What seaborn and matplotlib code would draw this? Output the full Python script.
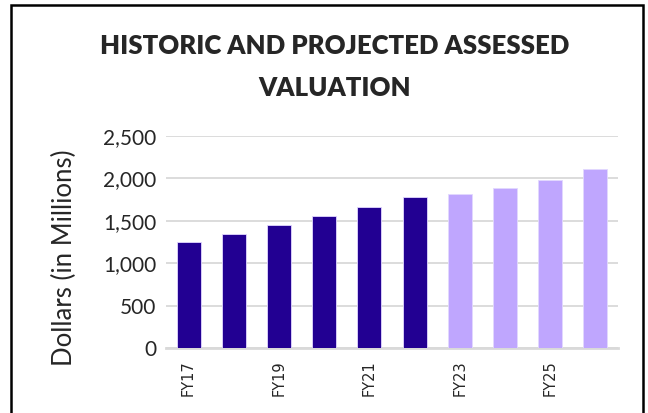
import matplotlib
matplotlib.use("Agg")
import matplotlib.pyplot as plt
import seaborn as sns
import pandas as pd
from matplotlib.patches import Rectangle

# data
years = ["FY17", "FY18", "FY19", "FY20", "FY21", "FY22", "FY23", "FY24", "FY25", "FY26"]
values = [1245, 1340, 1445, 1562, 1668, 1785, 1812, 1884, 1978, 2108]
status = ["Historic"] * 6 + ["Projected"] * 4
tick_labels = ["FY17", "", "FY19", "", "FY21", "", "FY23", "", "FY25", ""]
colors = {"Historic": "#220092", "Projected": "#bfa6fe"}

df = pd.DataFrame({"Year": years, "Value": values, "Status": status})

sns.set_theme(style="white")
plt.rcParams["font.family"] = ["Lato", "DejaVu Sans"]

fig = plt.figure(figsize=(6.48, 4.13), dpi=100)
ax = fig.add_axes([166 / 648, 65 / 413, 452 / 648, 212 / 413])

sns.barplot(data=df, x="Year", y="Value", hue="Status", palette=colors,
            order=years, dodge=False, width=0.53, legend=False, ax=ax,
            saturation=1, edgecolor="#e2d8ff", linewidth=0.6, zorder=3)

ax.set_ylim(0, 2500)
ax.set_yticks(range(0, 2501, 500))
ax.set_yticklabels([f"{v:,}" for v in range(0, 2501, 500)], fontsize=15)
ax.set_xticks(range(len(years)))
ax.set_xticklabels(tick_labels, rotation=90, fontsize=10.5, family="DejaVu Sans")
ax.tick_params(axis="y", length=0, pad=7)
ax.tick_params(axis="x", length=0, pad=9)
ax.set_xlabel("")
ax.set_ylabel("")
ax.yaxis.grid(True, color="#d9d9d9", linewidth=1.3, zorder=0)
ax.set_axisbelow(True)
for side in ["top", "right", "left"]:
    ax.spines[side].set_visible(False)
ax.spines["bottom"].set_color("#d9d9d9")
ax.spines["bottom"].set_linewidth(2)

fig.text(64 / 648, (413 - 258) / 413, "Dollars (in Millions)", rotation=90,
         ha="center", va="center", fontsize=18.5)

fig.text(335 / 648, (413 - 34) / 413, "HISTORIC AND PROJECTED ASSESSED\nVALUATION",
         ha="center", va="top", fontsize=18.5, fontweight="heavy", linespacing=1.9)

# outer chart frame
fig.patches.append(Rectangle((11 / 648, -0.05), 632 / 648, 1.05 - 5 / 413,
                             transform=fig.transFigure, fill=False,
                             edgecolor="black", linewidth=1.8))

fig.savefig("out.png", dpi=100)
